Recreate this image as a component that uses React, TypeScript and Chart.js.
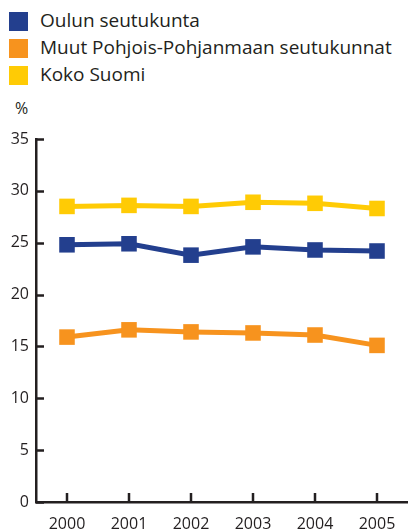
import React, { useEffect, useRef } from 'react';
import { Chart, registerables } from 'chart.js';

Chart.register(...registerables);

const years = ['2000', '2001', '2002', '2003', '2004', '2005'];
const oulunSeutukunta = [24.8, 24.9, 23.8, 24.6, 24.3, 24.2];
const muutSeutukunnat = [15.9, 16.6, 16.4, 16.3, 16.1, 15.1];
const kokoSuomi = [28.5, 28.6, 28.5, 28.9, 28.8, 28.3];
const seriesNames = ['Oulun seutukunta', 'Muut Pohjois-Pohjanmaan seutukunnat', 'Koko Suomi'];
const seriesColors = ['#233F8E', '#F7931E', '#FFCB05'];
const yTicks = [0, 5, 10, 15, 20, 25, 30, 35];

const AXIS = '#231F20';
const FONT = "'Open Sans', sans-serif";

export default function App() {
  const ref = useRef<HTMLCanvasElement>(null);

  useEffect(() => {
    if (!ref.current) return;
    const inwardTicks = {
      id: 'inwardTicks',
      afterDraw(chart: any) {
        const { ctx, chartArea } = chart;
        const x = chart.scales.x;
        const y = chart.scales.y;
        ctx.save();
        ctx.strokeStyle = AXIS;
        ctx.lineWidth = 2.5;
        ctx.beginPath();
        y.ticks.forEach((t: any) => {
          const py = Math.round(y.getPixelForValue(t.value)) + 0.5;
          ctx.moveTo(chartArea.left, py);
          ctx.lineTo(chartArea.left + 8, py);
        });
        x.ticks.forEach((_t: any, i: number) => {
          const px = Math.round(x.getPixelForTick(i));
          ctx.moveTo(px, chartArea.bottom);
          ctx.lineTo(px, chartArea.bottom - 9);
        });
        ctx.stroke();
        ctx.restore();
      },
    };

    const data = [oulunSeutukunta, muutSeutukunnat, kokoSuomi];
    const chart = new Chart(ref.current, {
      type: 'line',
      data: {
        labels: years,
        datasets: data.map((d, i) => ({
          label: seriesNames[i],
          data: d,
          borderColor: seriesColors[i],
          backgroundColor: seriesColors[i],
          borderWidth: 5,
          pointStyle: 'rect',
          pointRadius: 11,
          pointHoverRadius: 11,
          pointBorderWidth: 0,
          tension: 0,
        })),
      },
      options: {
        animation: false,
        responsive: false,
        maintainAspectRatio: false,
        layout: { autoPadding: false, padding: { top: 139, left: 0, right: 0, bottom: 0 } },
        plugins: { legend: { display: false }, tooltip: { enabled: false } },
        scales: {
          x: {
            offset: true,
            afterFit: (s: any) => { s.height = 29; s.paddingLeft = 0; s.paddingRight = 0; },
            grid: { display: true, drawOnChartArea: false, drawTicks: false },
            border: { color: AXIS, width: 2.5 },
            ticks: { color: AXIS, font: { family: FONT, size: 16 }, padding: 13, maxRotation: 0 },
          },
          y: {
            min: 0,
            max: 35,
            afterFit: (s: any) => { s.width = 36; s.paddingTop = 0; s.paddingBottom = 0; },
            afterBuildTicks: (s: any) => { s.ticks = yTicks.map((v) => ({ value: v })); },
            grid: { display: true, drawOnChartArea: false, drawTicks: false },
            border: { color: AXIS, width: 2.5 },
            ticks: { color: AXIS, font: { family: FONT, size: 16 }, padding: 7 },
          },
        },
      },
      plugins: [inwardTicks],
    });
    return () => chart.destroy();
  }, []);

  return (
    <div style={{ position: 'fixed', left: 0, top: 0, width: 408, height: 531, background: '#fff', overflow: 'hidden' }}>
      {seriesNames.map((name, i) => (
        <div
          key={name}
          style={{
            position: 'absolute', left: 9, top: 12 + i * 27, height: 19,
            display: 'flex', alignItems: 'center', fontFamily: FONT, fontSize: 19, color: AXIS, whiteSpace: 'nowrap',
          }}
        >
          <span style={{ display: 'inline-block', width: 19, height: 19, background: seriesColors[i], marginRight: 12, flex: 'none' }} />
          <span style={{ marginTop: -3 }}>{name}</span>
        </div>
      ))}
      <div style={{ position: 'absolute', left: 15, top: 97, fontFamily: FONT, fontSize: 16, color: AXIS }}>%</div>
      <canvas ref={ref} width={408} height={531} style={{ position: 'absolute', left: 0, top: 0, width: 408, height: 531 }} />
    </div>
  );
}
